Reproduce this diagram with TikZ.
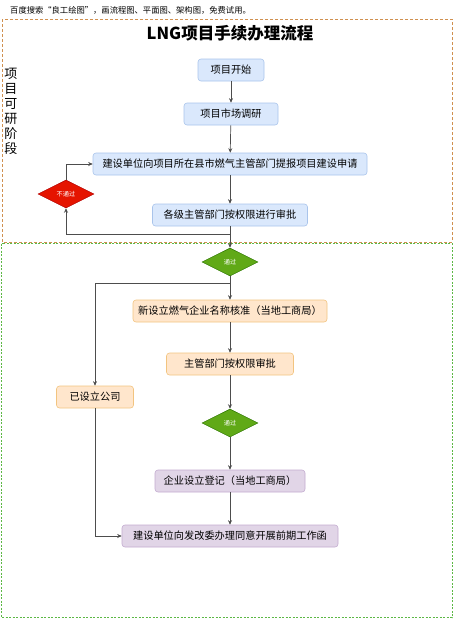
\documentclass[tikz,border=0pt]{standalone}
\usepackage{fontspec}
\setmainfont{Liberation Sans}
\newfontfamily\cjk{Noto Sans CJK SC}
\usetikzlibrary{shapes.geometric,arrows.meta}
\definecolor{bluefill}{HTML}{DAE8FC}
\definecolor{blueline}{HTML}{A9C4EB}
\definecolor{orfill}{HTML}{FFE6CC}
\definecolor{orline}{HTML}{F2C480}
\definecolor{pufill}{HTML}{E1D5E7}
\definecolor{puline}{HTML}{C3ABD0}
\definecolor{redfill}{HTML}{E51400}
\definecolor{redline}{HTML}{B20000}
\definecolor{grfill}{HTML}{60A917}
\definecolor{grline}{HTML}{2D7600}
\definecolor{ordash}{HTML}{D09050}
\definecolor{grdash}{HTML}{5CB845}
\definecolor{wire}{HTML}{4D4D4D}
\tikzset{
  box/.style={rectangle, rounded corners=3pt, minimum height=22pt, inner sep=0pt, font=\cjk\fontsize{10.2}{12}\selectfont, text=black, line width=0.6pt},
  bluebox/.style={box, fill=bluefill, draw=blueline},
  orbox/.style={box, fill=orfill, draw=orline},
  pubox/.style={box, fill=pufill, draw=puline},
  dia/.style={diamond, minimum width=56pt, minimum height=28pt, inner sep=0pt, text=white, font=\cjk\fontsize{6.2}{7}\selectfont, line width=0.5pt},
  arr/.style={draw=wire, line width=0.7pt, -{Stealth[length=4.5pt,width=4pt]}},
}
\begin{document}
\begin{tikzpicture}[x=1pt,y=-1pt]
\useasboundingbox (0,0) rectangle (454,619);
% header
\node[anchor=west, font=\cjk\fontsize{8.3}{10}\selectfont, inner sep=0pt] (hdr) at (10,10) {百度搜索“良工绘图”，画流程图、平面图、架构图，免费试用。};
% frames
\draw[ordash, line width=0.9pt, dash pattern=on 3pt off 2pt] (2,19) rectangle (452,242);
\draw[grdash, line width=1pt, dash pattern=on 2pt off 1.5pt] (1.5,243.5) rectangle (452,617.5);
% title
\node[font=\cjk\bfseries\fontsize{16.5}{18}\selectfont, inner sep=0pt] (title) at (230,33) {LNG项目手续办理流程};
% side label
\node[font=\cjk\fontsize{13}{15}\selectfont, align=center, inner sep=0pt, anchor=north] (side) at (11,68) {项\\目\\可\\研\\阶\\段};
% nodes
\node[bluebox, minimum width=66pt] (start) at (231,70) {项目开始};
\node[bluebox, minimum width=94pt] (survey) at (231,114) {项目市场调研};
\node[bluebox, minimum width=274pt] (apply) at (230,164) {建设单位向项目所在县市燃气主管部门提报项目建设申请};
\node[bluebox, minimum width=155pt] (review) at (230,215) {各级主管部门按权限进行审批};
\node[dia, fill=redfill, draw=redline] (fail) at (66,194) {不通过};
\node[dia, fill=grfill, draw=grline] (pass1) at (230,262) {通过};
\node[orbox, minimum width=194pt] (name) at (230,311) {新设立燃气企业名称核准（当地工商局）};
\node[orbox, minimum width=127pt] (auth) at (230,364) {主管部门按权限审批};
\node[orbox, minimum width=77pt] (exist) at (95,397) {已设立公司};
\node[dia, fill=grfill, draw=grline] (pass2) at (230,423) {通过};
\node[pubox, minimum width=150pt] (reg) at (230,481) {企业设立登记（当地工商局）};
\node[pubox, minimum width=216pt] (final) at (230,536) {建设单位向发改委办理同意开展前期工作函};
% junctions
\coordinate (j1) at (230,234);
\coordinate (j2) at (230,283);
% connectors
\draw[arr] (start) -- (survey);
\draw[arr] (survey) -- (apply);
\draw[arr] (apply) -- (review);
\draw[arr] (review) -- (pass1);
\draw[arr] (j1) -| (fail.south);
\draw[arr] (fail.north) |- (apply.west);
\draw[arr] (pass1) -- (name);
\draw[arr] (j2) -| (exist.north);
\draw[arr] (name) -- (auth);
\draw[arr] (auth) -- (pass2);
\draw[arr] (pass2) -- (reg);
\draw[arr] (reg) -- (final);
\draw[arr] (exist.south) |- (final.west);
\end{tikzpicture}
\end{document}
